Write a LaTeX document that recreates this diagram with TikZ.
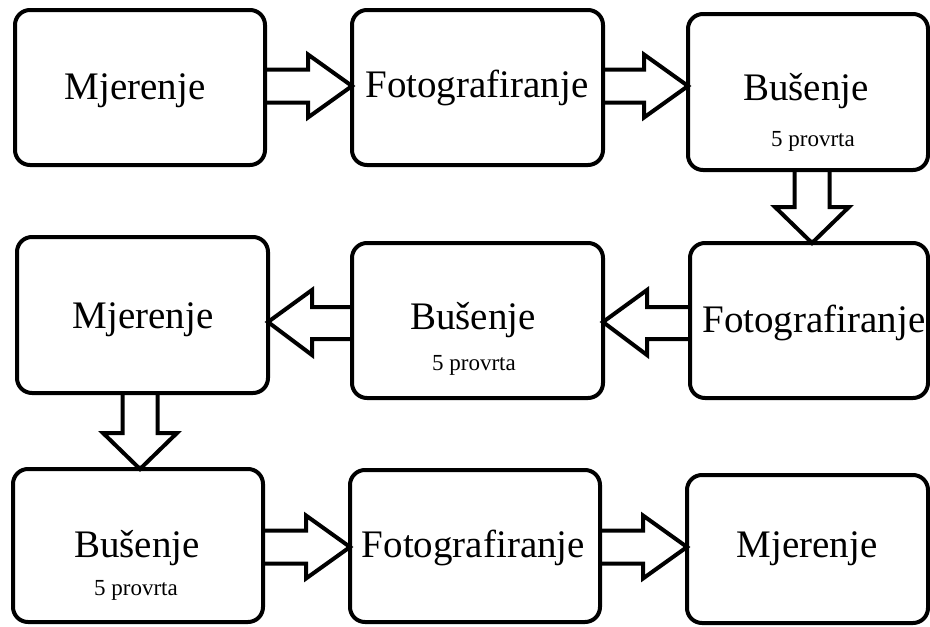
\documentclass[tikz,border=0pt]{standalone}
\usepackage{fontspec}
\setmainfont{Liberation Serif}
\usetikzlibrary{calc,backgrounds}
\tikzset{
  box/.style={draw, line width=4pt, rounded corners=15pt, inner sep=0pt, outer sep=0pt},
  lbl/.style={anchor=base, inner sep=0pt, font=\fontsize{39}{44}\selectfont},
  sublbl/.style={anchor=base, inner sep=0pt, font=\fontsize{23}{26}\selectfont},
  blk/.style={draw, fill=white, line width=4pt, line join=miter, miter limit=10}
}
% right-pointing block arrow: from node #1 to node #2 at height #3
\newcommand\blkright[3]{%
  \filldraw[blk] (#1.east |- 0,#3-16.5) -- ($(#2.west |- 0,#3-16.5)+(-44,0)$)
    -- ($(#2.west |- 0,#3-31.5)+(-44,0)$) -- (#2.west |- 0,#3)
    -- ($(#2.west |- 0,#3+31.5)+(-44,0)$) -- ($(#2.west |- 0,#3+16.5)+(-44,0)$)
    -- (#1.east |- 0,#3+16.5);}
% left-pointing block arrow: from node #1 to node #2 at height #3
\newcommand\blkleft[3]{%
  \filldraw[blk] (#1.west |- 0,#3-15) -- ($(#2.east |- 0,#3-15)+(44,0)$)
    -- ($(#2.east |- 0,#3-32)+(44,0)$) -- (#2.east |- 0,#3)
    -- ($(#2.east |- 0,#3+33)+(44,0)$) -- ($(#2.east |- 0,#3+17)+(44,0)$)
    -- (#1.west |- 0,#3+17);}
% down-pointing block arrow: from node #1 to node #2 at x #3
\newcommand\blkdown[3]{%
  \filldraw[blk] (#1.south -| #3-17.5,0) -- ($(#2.north -| #3-17.5,0)+(0,-36)$)
    -- ($(#2.north -| #3-37,0)+(0,-36)$) -- (#2.north -| #3,0)
    -- ($(#2.north -| #3+37,0)+(0,-36)$) -- ($(#2.north -| #3+17.5,0)+(0,-36)$)
    -- (#1.south -| #3+17.5,0);}
\begin{document}
\begin{tikzpicture}[x=1pt,y=-1pt]
\useasboundingbox (0,0) rectangle (930,627);
% boxes
\node[box, minimum width=250pt, minimum height=155pt] (b1) at (140,87.5) {};
\node[box, minimum width=251pt, minimum height=155pt] (b2) at (477.5,87.5) {};
\node[box, minimum width=240pt, minimum height=156pt] (b3) at (808,92) {};
\node[box, minimum width=251pt, minimum height=156pt] (b4) at (142.5,315) {};
\node[box, minimum width=251pt, minimum height=155pt] (b5) at (477.5,320.5) {};
\node[box, minimum width=238pt, minimum height=155pt] (b6) at (809,320.5) {};
\node[box, minimum width=250pt, minimum height=153pt] (b7) at (138,545.5) {};
\node[box, minimum width=250pt, minimum height=152pt] (b8) at (475,546) {};
\node[box, minimum width=241pt, minimum height=148pt] (b9) at (807.5,549) {};
% texts
\node[lbl] (t1) at (135,99) {Mjerenje};
\node[lbl] (t2) at (477,97) {Fotografiranje};
\node[lbl] (t3) at (806,100) {Bušenje};
\node[sublbl] (s3) at (813,146) {5 provrta};
\node[lbl] (t4) at (143,328) {Mjerenje};
\node[lbl] (t5) at (473,329) {Bušenje};
\node[sublbl] (s5) at (474,370) {5 provrta};
\node[lbl] (t6) at (814,332) {Fotografiranje};
\node[lbl] (t7) at (137,557) {Bušenje};
\node[sublbl] (s7) at (136,595) {5 provrta};
\node[lbl] (t8) at (473.5,557) {Fotografiranje};
\node[lbl] (t9) at (807,557) {Mjerenje};
% arrows (behind the boxes)
\begin{scope}[on background layer]
\fill[white] (0,0) rectangle (930,627);
\blkright{b1}{b2}{86}
\blkright{b2}{b3}{86}
\blkdown{b3}{b6}{812}
\blkleft{b6}{b5}{322}
\blkleft{b5}{b4}{322}
\blkdown{b4}{b7}{140}
\blkright{b7}{b8}{547}
\blkright{b8}{b9}{547}
\end{scope}
\end{tikzpicture}
\end{document}
